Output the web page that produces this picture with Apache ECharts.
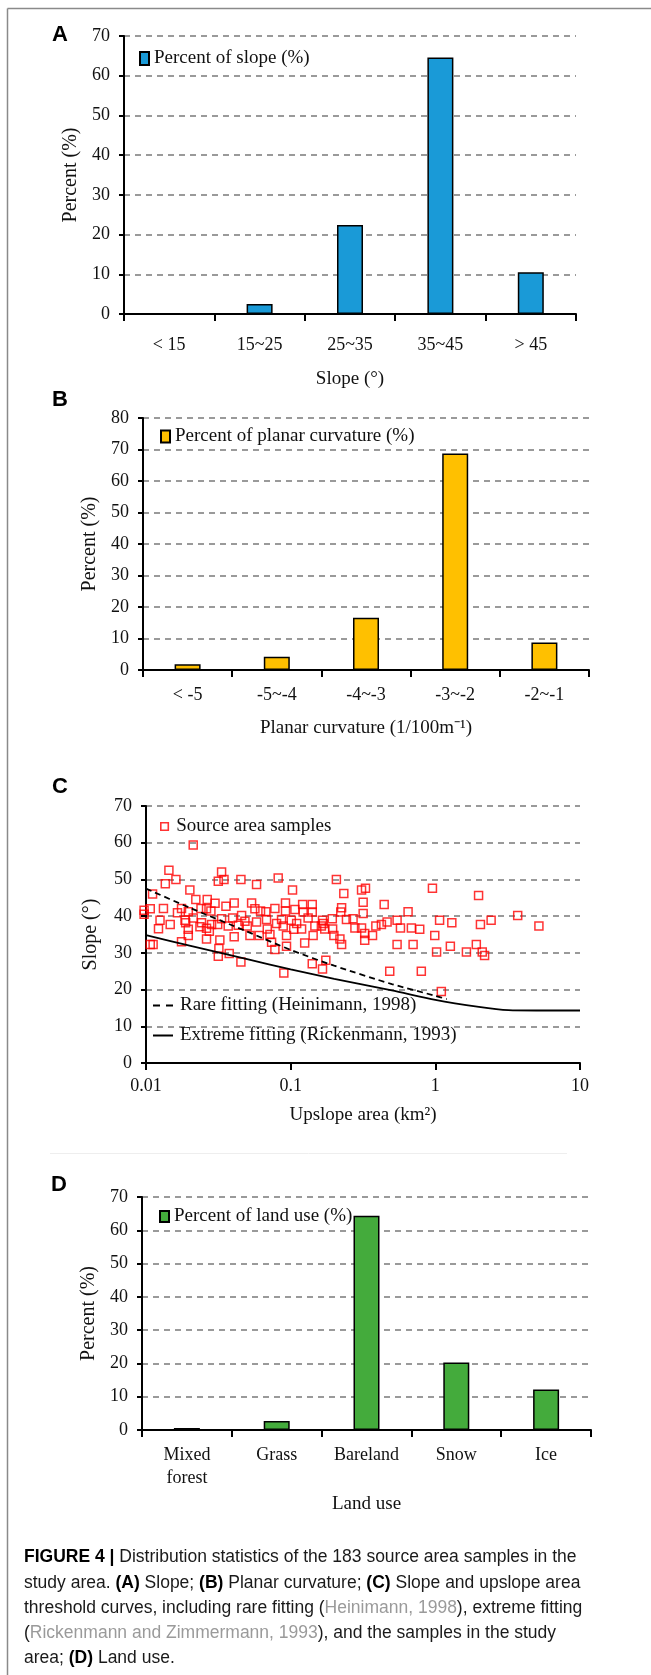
<!DOCTYPE html>
<html><head><meta charset="utf-8">
<script src="https://cdn.jsdelivr.net/npm/echarts@6/dist/echarts.min.js"></script>
<style>html,body{margin:0;padding:0;background:#fff}#c{width:651px;height:1675px}</style>
</head><body><div id="c"></div>
<script>
// ---- data ----
const slopeCats = ['< 15', '15~25', '25~35', '35~45', '> 45'];
const slopeVals = [0, 2.5, 22.4, 64.6, 10.5];
const curvCats = ['< -5', '-5~-4', '-4~-3', '-3~-2', '-2~-1'];
const curvVals = [1.8, 4.2, 16.6, 68.7, 8.7];
const landCats = ['Mixed\nforest', 'Grass', 'Bareland', 'Snow', 'Ice'];
const landVals = [0.6, 2.7, 64.4, 20.3, 12.2];
const areaTicks = [0.01, 0.1, 1, 10];
const samples = [
[0.0212,59.4],[0.0144,52.5],[0.0161,50],[0.0136,48.8],[0.0333,52],[0.0316,49.5],[0.0346,50],[0.0453,50],[0.0581,48.6],[0.082,50.4],
[0.207,50],[0.0111,46],[0.0201,47.1],[0.103,47.1],[0.233,46.2],[0.0097,41.6],[0.0107,42],[0.0097,40.5],[0.0132,42.1],[0.0125,38.9],
[0.0122,36.6],[0.0147,37.7],[0.0107,32.3],[0.0112,32.3],[0.0165,40.9],[0.0176,42.1],[0.0186,38.9],[0.0196,41.2],[0.0221,44.5],[0.024,42.1],
[0.0265,44.5],[0.0262,42],[0.0281,41.4],[0.03,43.5],[0.0333,39.3],[0.0357,42.7],[0.0407,43.6],[0.0397,39.5],[0.0458,40.2],[0.0537,43.6],
[0.0566,42],[0.0619,41.4],[0.0674,41.2],[0.0778,42.1],[0.0921,43.6],[0.0921,41.4],[0.107,41.8],[0.121,43.2],[0.122,41.1],[0.141,43.2],
[0.141,41.1],[0.166,38.9],[0.194,39.3],[0.225,42.3],[0.222,41.1],[0.0188,38.2],[0.0196,36.4],[0.0196,34.7],[0.0176,33],[0.0212,39.5],
[0.0242,38.2],[0.0236,37.1],[0.0262,36.7],[0.0274,35.9],[0.0262,33.8],[0.0284,37.7],[0.0313,37.7],[0.0324,33.5],[0.0319,31.2],[0.0316,29.1],
[0.037,37.3],[0.0376,29.8],[0.0407,34.4],[0.0434,37.5],[0.0483,38.6],[0.0501,37.3],[0.0523,34.7],[0.0581,38.4],[0.0606,34.7],[0.0681,39.1],
[0.0689,36.5],[0.0719,35],[0.0738,32.9],[0.0778,30.9],[0.0799,38],[0.0865,39.1],[0.0888,37.3],[0.0936,34.7],[0.0936,31.8],[0.101,38.9],
[0.105,36.4],[0.11,38],[0.119,36.5],[0.125,32.7],[0.132,39.5],[0.143,34.7],[0.147,37.3],[0.163,37.3],[0.168,38],[0.172,36.5],
[0.195,36.5],[0.199,34.7],[0.219,33.8],[0.225,32.3],[0.0453,27.5],[0.0897,24.5],[0.141,27],[0.166,25.6],[0.175,28],[0.243,39.1],
[0.309,47.1],[0.329,47.6],[0.317,43.8],[0.317,40.7],[0.443,43.2],[0.955,47.6],[1.99,45.6],[0.27,39.3],[0.278,36.8],[0.309,36.8],
[0.388,37.3],[0.424,37.7],[0.464,38.4],[0.544,38.9],[0.648,41.2],[0.574,36.8],[0.683,36.8],[0.78,36.4],[1.07,38.9],[1.3,38.2],
[2.43,38.9],[2.05,37.7],[3.71,40.2],[5.2,37.3],[0.325,35.3],[0.368,34.7],[0.325,33.4],[0.544,32.3],[0.702,32.3],[0.991,34.7],
[1.02,30.2],[1.27,31.8],[1.64,30.2],[1.92,32.3],[2.11,30.2],[2.19,29.3],[0.484,25],[0.80,25],[1.10,19.5]
];
const rareFit = [[0.01,47.5],[0.02,42.3],[0.05,35.8],[0.1,30.8],[0.2,26.5],[0.5,21.5],[1,18.3],[1.2,17.4]];
const extremeFit = [[0.01,34.8],[0.02,32],[0.05,28.3],[0.1,25.5],[0.2,22.9],[0.5,19.8],[1,17.2],[2,15.3],[3.2,14.4],[5,14.3],[10,14.3]];

// ---- styles ----
const SERIF = '"Liberation Serif","Times New Roman",serif';
const SANS = '"Liberation Sans",Arial,sans-serif';
const TXT = '#111';
const axLine = {show: true, lineStyle: {color: '#000', width: 2}};
const split = {show: true, lineStyle: {color: '#9a9a9a', width: 2, type: [6, 5]}};
function xCat(grid, data, margin, name, gap) {
  return {type: 'category', gridIndex: grid, data: data,
    axisLine: axLine, axisTick: {show: true, length: 7, lineStyle: {color: '#000', width: 2}},
    axisLabel: {color: TXT, fontFamily: SERIF, fontSize: 18, margin: margin, lineHeight: 23, interval: 0},
    splitLine: {show: false}, name: name, nameLocation: 'middle', nameGap: gap,
    nameTextStyle: {color: TXT, fontFamily: SERIF, fontSize: 19}};
}
function yVal(grid, max, gap, name) {
  return {type: 'value', gridIndex: grid, min: 0, max: max, interval: 10,
    axisLine: axLine, axisTick: {show: true, length: 5, lineStyle: {color: '#000', width: 2}},
    axisLabel: {color: TXT, fontFamily: SERIF, fontSize: 18, margin: 14},
    splitLine: split, name: name, nameLocation: 'middle', nameGap: gap,
    nameTextStyle: {color: TXT, fontFamily: SERIF, fontSize: 20}};
}
function leg(left, top, names, w, h, extra) {
  return Object.assign({left: left, top: top, padding: 0, itemWidth: w, itemHeight: h, selectedMode: false,
    data: names, textStyle: {color: TXT, fontFamily: SERIF, fontSize: 19}}, extra || {});
}
function capLine(y, txt) {
  return {type: 'text', x: 24, y: y, style: {text: txt, fill: '#1a1a1a', font: '17.5px ' + SANS, verticalAlign: 'middle',
    rich: {b: {fontFamily: SANS, fontSize: 17.5, fontWeight: 'bold', fill: '#000', color: '#000'},
           g: {fontFamily: SANS, fontSize: 17.5, fill: '#9a9a9a', color: '#9a9a9a'}}}};
}
function letter(x, y, t) {
  return {type: 'text', x: x, y: y, style: {text: t, fill: '#000', font: 'bold 22px ' + SANS, verticalAlign: 'middle'}};
}
const barStyle = c => ({color: c, borderColor: '#000', borderWidth: 1.5});
const dashIcon = 'path://M0,0H7V2H0Z M13,0H20V2H13Z';
const solidIcon = 'path://M0,0H20V2H0Z';

const option = {
  animation: false,
  backgroundColor: '#fff',
  grid: [
    {left: 124, top: 36, width: 452, height: 278},
    {left: 143, top: 418, width: 446, height: 252},
    {left: 146, top: 806, width: 434, height: 257},
    {left: 142, top: 1197, width: 449, height: 233}
  ],
  xAxis: [
    xCat(0, slopeCats, 20, 'Slope (°)', 56),
    xCat(1, curvCats, 14, 'Planar curvature (1/100m⁻¹)', 49),
    {type: 'log', logBase: 10, gridIndex: 2, min: areaTicks[0], max: areaTicks[areaTicks.length - 1],
      axisLine: axLine, axisTick: {show: true, length: 7, lineStyle: {color: '#000', width: 2}},
      axisLabel: {color: TXT, fontFamily: SERIF, fontSize: 18, margin: 14,
        formatter: v => String(parseFloat(v.toPrecision(3)))},
      minorTick: {show: false}, splitLine: {show: false},
      name: 'Upslope area (km²)', nameLocation: 'middle', nameGap: 43,
      nameTextStyle: {color: TXT, fontFamily: SERIF, fontSize: 19}},
    xCat(3, landCats, 14, 'Land use', 65)
  ],
  yAxis: [
    yVal(0, 70, 39, 'Percent (%)'),
    yVal(1, 80, 42, 'Percent (%)'),
    yVal(2, 70, 45, 'Slope (°)'),
    yVal(3, 70, 41, 'Percent (%)')
  ],
  legend: [
    leg(139, 49, [{name: 'Percent of slope (%)', icon: 'rect'}], 9, 13),
    leg(160, 427, [{name: 'Percent of planar curvature (%)', icon: 'rect'}], 9, 12),
    leg(160, 817, [{name: 'Source area samples', icon: 'rect',
      itemStyle: {color: '#fff', borderColor: '#ff0000', borderWidth: 1.6}}], 7.5, 7.5,
      {textStyle: {color: TXT, fontFamily: SERIF, fontSize: 19, padding: [0, 0, 0, 3]}}),
    leg(153, 996, [{name: 'Rare fitting (Heinimann, 1998)', icon: dashIcon,
      itemStyle: {color: '#000', borderWidth: 0}}], 20, 2,
      {textStyle: {color: TXT, fontFamily: SERIF, fontSize: 19, padding: [0, 0, 0, 2]}}),
    leg(153, 1026, [{name: 'Extreme fitting (Rickenmann, 1993)', icon: solidIcon,
      itemStyle: {color: '#000', borderWidth: 0}}], 20, 2,
      {textStyle: {color: TXT, fontFamily: SERIF, fontSize: 19, padding: [0, 0, 0, 2]}}),
    leg(159, 1207, [{name: 'Percent of land use (%)', icon: 'rect'}], 9, 11)
  ],
  graphic: [
    {type: 'line', shape: {x1: 7.5, y1: 8.5, x2: 651, y2: 8.5}, style: {stroke: '#8a8a8a', lineWidth: 1.5}},
    {type: 'line', shape: {x1: 7.5, y1: 8.5, x2: 7.5, y2: 1675}, style: {stroke: '#8a8a8a', lineWidth: 1.5}},
    {type: 'line', shape: {x1: 50, y1: 1153.5, x2: 567, y2: 1153.5}, style: {stroke: '#eeeeee', lineWidth: 1}},
    letter(52, 35, 'A'), letter(52, 400, 'B'), letter(52, 787, 'C'), letter(51, 1185, 'D'),
    capLine(1557, '{b|FIGURE 4 |} Distribution statistics of the 183 source area samples in the'),
    capLine(1583, 'study area. {b|(A)} Slope; {b|(B)} Planar curvature; {b|(C)} Slope and upslope area'),
    capLine(1608, 'threshold curves, including rare fitting ({g|Heinimann, 1998}), extreme fitting'),
    capLine(1633, '({g|Rickenmann and Zimmermann, 1993}), and the samples in the study'),
    capLine(1658, 'area; {b|(D)} Land use.')
  ],
  series: [
    {name: 'Percent of slope (%)', type: 'bar', xAxisIndex: 0, yAxisIndex: 0, data: slopeVals, barWidth: 26,
      itemStyle: barStyle('#1a9ad7')},
    {name: 'Percent of planar curvature (%)', type: 'bar', xAxisIndex: 1, yAxisIndex: 1, data: curvVals, barWidth: 26,
      itemStyle: barStyle('#ffc000')},
    {name: 'Source area samples', type: 'scatter', xAxisIndex: 2, yAxisIndex: 2, data: samples, clip: false,
      symbol: 'rect', symbolSize: 8, itemStyle: {color: 'rgba(255,255,255,0)', borderColor: '#ff0000', borderWidth: 1.5}},
    {name: 'Rare fitting (Heinimann, 1998)', type: 'line', xAxisIndex: 2, yAxisIndex: 2, data: rareFit,
      symbol: 'none', smooth: 0.25, lineStyle: {color: '#000', width: 1.8, type: [6, 4]}, itemStyle: {color: '#000'}},
    {name: 'Extreme fitting (Rickenmann, 1993)', type: 'line', xAxisIndex: 2, yAxisIndex: 2, data: extremeFit,
      symbol: 'none', smooth: 0.25, lineStyle: {color: '#000', width: 1.8}, itemStyle: {color: '#000'}},
    {name: 'Percent of land use (%)', type: 'bar', xAxisIndex: 3, yAxisIndex: 3, data: landVals, barWidth: 26,
      itemStyle: barStyle('#44ab3c')}
  ]
};
const chart = echarts.init(document.getElementById('c'), null, {renderer: 'canvas'});
chart.setOption(option);
</script>
</body></html>
